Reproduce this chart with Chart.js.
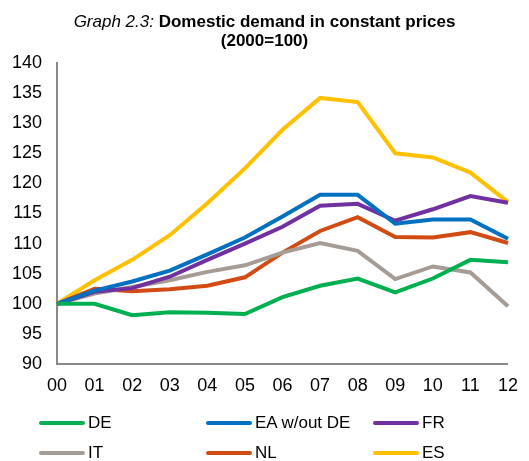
<!DOCTYPE html>
<html>
<head>
<meta charset="utf-8">
<script src="https://cdn.jsdelivr.net/npm/chart.js@4/dist/chart.umd.min.js"></script>
<style>
  html, body { margin: 0; padding: 0; background: #fff; }
  #wrap { position: relative; width: 529px; height: 461px; font-family: "Liberation Sans", Arial, sans-serif; }
  #title { position: absolute; left: 0; top: 12px; width: 529px; text-align: center; font-size: 17px; line-height: 19px; color: #000; }
  #title i { font-weight: normal; }
  #title b { font-weight: bold; }
  canvas { position: absolute; left: 0; top: 0; }
  #legend { position: absolute; left: 0; top: 413px; width: 529px; font-size: 17px; color: #000; }
  .item { position: absolute; display: flex; align-items: center; height: 20px; }
  .swatch { width: 46px; height: 4px; border-radius: 2px; margin-right: 3px; }
</style>
</head>
<body>
<div id="wrap">
  <canvas id="c" width="529" height="461"></canvas>
  <div id="title"><i>Graph 2.3:</i> <b>Domestic demand in constant prices</b><br><b>(2000=100)</b></div>
  <div id="legend"></div>
</div>
<script>
const categories = ['00','01','02','03','04','05','06','07','08','09','10','11','12'];
const seriesNames = ['DE','EA w/out DE','FR','IT','NL','ES'];
const DE   = [100, 100.0, 98.1, 98.6, 98.5, 98.3, 101.1, 103.0, 104.2, 101.9, 104.2, 107.3, 106.9];
const EA   = [100, 102.2, 103.7, 105.5, 108.2, 111.0, 114.5, 118.1, 118.1, 113.3, 114.0, 114.0, 110.8];
const FR   = [100, 102.0, 102.6, 104.5, 107.3, 110.0, 112.8, 116.3, 116.6, 113.8, 115.7, 117.9, 116.8];
const IT   = [100, 101.7, 102.8, 103.9, 105.3, 106.4, 108.5, 110.1, 108.8, 104.1, 106.2, 105.2, 99.6];
const NL   = [100, 102.5, 102.1, 102.4, 103.0, 104.4, 108.5, 112.1, 114.4, 111.1, 111.0, 111.9, 110.1];
const ES   = [100, 103.9, 107.3, 111.4, 116.7, 122.5, 128.9, 134.2, 133.5, 125.0, 124.3, 121.8, 116.9];
const colors = ['#00B050','#0070C0','#7030A0','#A59D95','#D24B12','#FFC000'];
const yTicks = [90,95,100,105,110,115,120,125,130,135,140];

const allData = [DE, EA, FR, IT, NL, ES];
const datasets = seriesNames.map((n, i) => ({
  label: n,
  data: allData[i],
  borderColor: colors[i],
  backgroundColor: colors[i],
  borderWidth: 4,
  pointRadius: 0,
  tension: 0,
  fill: false
}));

const chart = new Chart(document.getElementById('c'), {
  type: 'line',
  data: { labels: categories, datasets: datasets },
  options: {
    responsive: false,
    animation: false,
    layout: { padding: { top: 63, right: 10, bottom: 61, left: 0 } },
    plugins: { legend: { display: false }, title: { display: false }, tooltip: { enabled: false } },
    scales: {
      x: {
        offset: false,
        grid: { display: false, drawTicks: false },
        border: { display: true, color: '#898989', width: 2 },
        ticks: { color: '#000', font: { family: 'Liberation Sans', size: 18 }, padding: 11, maxRotation: 0, autoSkip: false },
        afterFit: (s) => { s.height = 36; }
      },
      y: {
        min: 90, max: 140,
        grid: { display: false, drawTicks: false },
        border: { display: true, color: '#898989', width: 2 },
        afterBuildTicks: (s) => { s.ticks = yTicks.map(v => ({ value: v })); },
        ticks: { color: '#000', font: { family: 'Liberation Sans', size: 18 }, padding: 15 },
        afterFit: (s) => { s.width = 57; }
      }
    }
  }
});

const legend = document.getElementById('legend');
const pos = [[39,0],[206,0],[373,0],[39,30],[206,30],[373,30]];
seriesNames.forEach((n, i) => {
  const d = document.createElement('div');
  d.className = 'item';
  d.style.left = pos[i][0] + 'px';
  d.style.top = pos[i][1] + 'px';
  d.innerHTML = '<span class="swatch" style="background:' + colors[i] + '"></span><span>' + n + '</span>';
  legend.appendChild(d);
});
</script>
</body>
</html>
